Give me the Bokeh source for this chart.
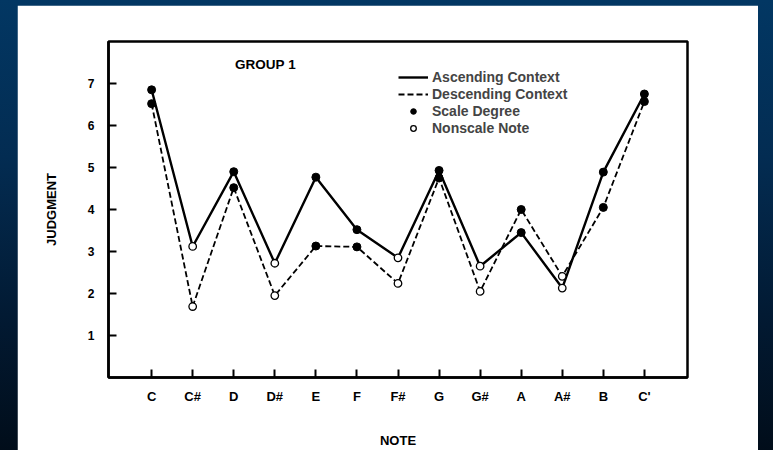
from bokeh.plotting import figure
from bokeh.models import (ColumnDataSource, FactorRange, Range1d, FixedTicker,
                          Legend, LegendItem, Label)
from bokeh.layouts import column
from bokeh.embed import file_html
from bokeh.resources import INLINE

# Mean judgments for each chromatic note, group 1
notes = ["C", "C#", "D", "D#", "E", "F", "F#", "G", "G#", "A", "A#", "B", "C'"]
scale_degree = [True, False, True, False, True, True, False, True, False, True, False, True, True]
ascending = [6.85, 3.12, 4.90, 2.72, 4.77, 3.52, 2.85, 4.93, 2.65, 3.45, 2.13, 4.89, 6.75]
descending = [6.52, 1.69, 4.52, 1.95, 3.13, 3.11, 2.24, 4.75, 2.05, 4.00, 2.41, 4.05, 6.57]
y_ticks = [1, 2, 3, 4, 5, 6, 7]

FONT = "Liberation Sans"

p = figure(
    width=741, height=445,
    x_range=FactorRange(factors=notes, range_padding=0.55, range_padding_units="absolute"),
    y_range=Range1d(0, 8.0),
    output_backend="svg", toolbar_location=None,
    min_border_left=91, min_border_right=71, min_border_top=36, min_border_bottom=73,
)
p.margin = (5, 0, 0, 17)
p.background_fill_color = "white"
p.border_fill_color = "white"
p.outline_line_color = "black"
p.outline_line_width = 2.5
p.grid.visible = False

# axes: inward ticks, bold labels
for ax in (p.xaxis[0], p.yaxis[0]):
    ax.axis_line_width = 2.5
    ax.axis_line_color = "black"
    ax.major_tick_in = 8
    ax.major_tick_out = 0
    ax.major_tick_line_width = 2
    ax.minor_tick_line_color = None
    ax.major_label_text_font = FONT
    ax.major_label_text_font_style = "bold"
    ax.major_label_text_color = "black"
    ax.axis_label_text_font = FONT
    ax.axis_label_text_font_style = "bold"
    ax.axis_label_text_font_size = "13px"
    ax.axis_label_text_color = "black"

p.xaxis.major_label_text_font_size = "13px"
p.xaxis.major_label_standoff = 11
p.xaxis.axis_label = "NOTE"
p.xaxis.axis_label_standoff = 26

p.yaxis.ticker = FixedTicker(ticks=y_ticks)
p.yaxis.major_label_text_font_size = "12px"
p.yaxis.major_label_standoff = 14
p.yaxis.axis_label = "JUDGMENT"
p.yaxis.axis_label_standoff = 26


def split(values, keep):
    xs = [n for n, s in zip(notes, scale_degree) if s == keep]
    ys = [v for v, s in zip(values, scale_degree) if s == keep]
    return ColumnDataSource(dict(x=xs, y=ys))


asc_src = ColumnDataSource(dict(x=notes, y=ascending))
desc_src = ColumnDataSource(dict(x=notes, y=descending))

desc_line = p.line("x", "y", source=desc_src, line_color="black", line_width=1.8, line_dash="6 3")
asc_line = p.line("x", "y", source=asc_src, line_color="black", line_width=2.4)

markers = {}
for name, vals in (("asc", ascending), ("desc", descending)):
    markers[(name, True)] = p.scatter("x", "y", source=split(vals, True), size=8,
                                      marker="circle", fill_color="black", line_color="black")
    markers[(name, False)] = p.scatter("x", "y", source=split(vals, False), size=7.5,
                                       marker="circle", fill_color="white", line_color="black",
                                       line_width=1.3)

legend = Legend(
    items=[
        LegendItem(label="Ascending Context", renderers=[asc_line]),
        LegendItem(label="Descending Context", renderers=[desc_line]),
        LegendItem(label="Scale Degree", renderers=[markers[("asc", True)]]),
        LegendItem(label="Nonscale Note", renderers=[markers[("asc", False)]]),
    ],
    location=(290, 241),
    padding=0, margin=0, spacing=1,
    glyph_width=30, glyph_height=14, label_height=14, label_standoff=4,
    label_text_font=FONT, label_text_font_style="bold", label_text_font_size="14px",
    border_line_alpha=0, background_fill_alpha=0,
)
p.add_layout(legend)

p.add_layout(Label(x=157, y=313, x_units="screen", y_units="screen", text="GROUP 1",
                   text_align="center", text_baseline="middle", text_font=FONT,
                   text_font_style="bold", text_font_size="13.5px", text_color="black"))

page = column(p, width=773, height=450,
              styles={"background": "linear-gradient(to bottom, #023763 0%, #032c52 35%, #021a33 70%, #010d1a 100%)"})

open("out.html", "w").write(file_html(page, INLINE))
